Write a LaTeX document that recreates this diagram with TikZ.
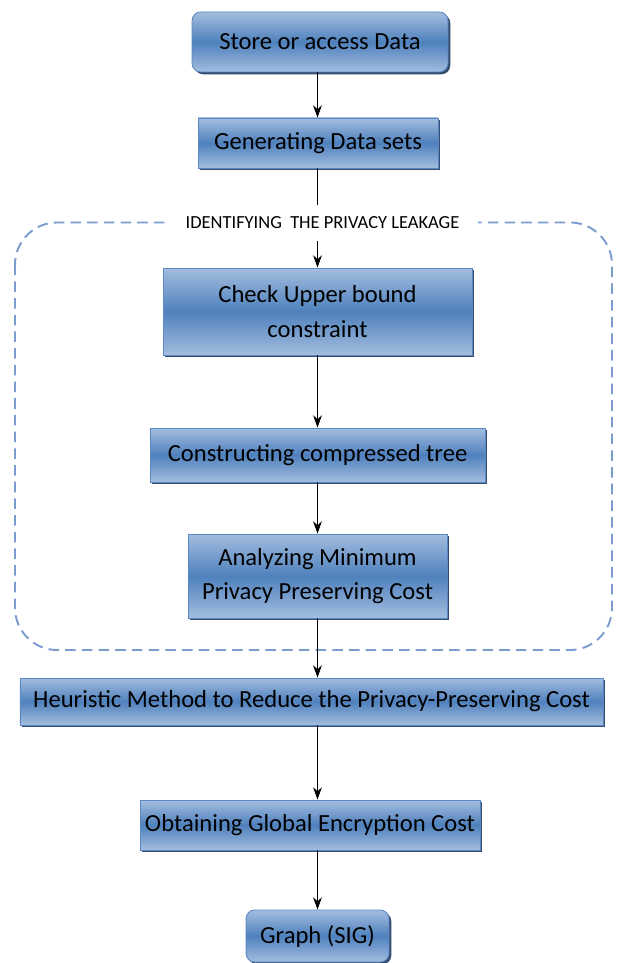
\documentclass[tikz,border=0pt]{standalone}
\usepackage{fontspec}
\setmainfont{Carlito}
\usetikzlibrary{arrows.meta,shadows}
\definecolor{boxTop}{HTML}{A3BDDF}
\definecolor{boxMid}{HTML}{4F81BD}
\definecolor{boxEdge}{HTML}{5B88C3}
\definecolor{boxShade}{HTML}{1F3A60}
\definecolor{frameBlue}{HTML}{7B9CCF}
\tikzstyle{stepBox}=[draw=boxEdge,line width=0.5pt,top color=boxTop,bottom color=boxTop,middle color=boxMid,drop shadow={shadow xshift=1.3pt,shadow yshift=-1.3pt,fill=boxShade,opacity=0.9},inner sep=0pt,align=center,font=\fontsize{14}{19.5}\selectfont]
\tikzstyle{roundBox}=[stepBox,rounded corners=5pt]
\tikzstyle{flowArrow}=[-{Stealth[length=7pt,width=5pt]},line width=0.6pt]
\tikzstyle{groupFrame}=[draw=frameBlue,line width=1.1pt,dash pattern=on 6pt off 3.5pt,rounded corners=24pt]
\begin{document}
\begin{tikzpicture}

    \useasboundingbox (0,0) rectangle (12.42,-19.26);

    % dashed group round the leakage steps
    \draw[groupFrame] (0.3,-4.45) rectangle (12.24,-13.0);

    \node[roundBox,minimum width=5.12cm,minimum height=1.2cm] (store) at (6.4,-0.84) {Store or access Data};
    \node[stepBox,minimum width=4.8cm,minimum height=1.0cm] (gen) at (6.36,-2.86) {Generating Data sets};
    \node[fill=white,inner xsep=0.38cm,inner ysep=6.5pt,font=\fontsize{10.5}{12}\selectfont] (leak) at (6.45,-4.46) {IDENTIFYING\ \ THE PRIVACY LEAKAGE};
    \node[stepBox,minimum width=6.18cm,minimum height=1.74cm] (check) at (6.35,-6.23) {Check Upper bound\\constraint};
    \node[stepBox,minimum width=6.7cm,minimum height=1.08cm] (tree) at (6.35,-9.1) {Constructing compressed tree};
    \node[stepBox,minimum width=5.18cm,minimum height=1.68cm] (cost) at (6.35,-11.52) {Analyzing Minimum\\Privacy Preserving Cost};
    \node[stepBox,minimum width=11.66cm,minimum height=0.94cm] (heuristic) at (6.23,-14.03) {Heuristic Method to Reduce the Privacy-Preserving Cost};
    \node[stepBox,minimum width=6.8cm,minimum height=1.0cm] (global) at (6.2,-16.5) {Obtaining Global Encryption Cost};
    \node[roundBox,minimum width=2.86cm,minimum height=1.04cm] (sig) at (6.35,-18.72) {Graph (SIG)};

    \draw[flowArrow] (store.south -| check) -- (gen.north -| check);
    \draw[line width=0.6pt] (gen.south -| check) -- (leak.north -| check);
    \draw[flowArrow] (leak.south -| check) -- (check);
    \draw[flowArrow] (check) -- (tree);
    \draw[flowArrow] (tree) -- (cost);
    \draw[flowArrow] (cost) -- (heuristic.north -| cost);
    \draw[flowArrow] (heuristic.south -| cost) -- (global.north -| cost);
    \draw[flowArrow] (global.south -| cost) -- (sig);

\end{tikzpicture}
\end{document}
